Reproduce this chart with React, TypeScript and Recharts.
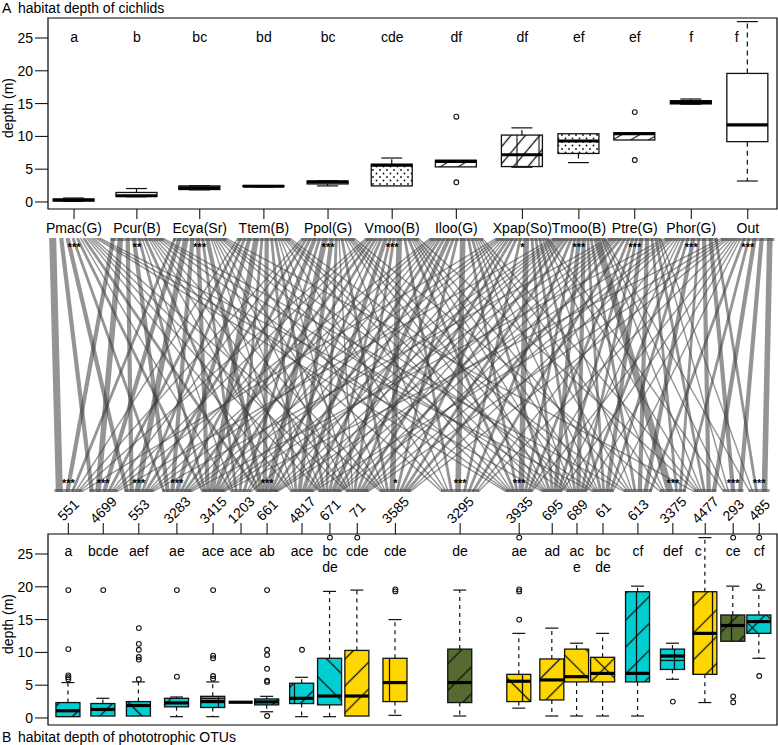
import React from "react";
import { ComposedChart, Bar, Scatter, Line, XAxis, YAxis, ReferenceArea } from "recharts";

const FONT = '"Liberation Sans", Arial, Helvetica, sans-serif';
const Y_MIN = -1.07;
const Y_MAX = 28.05;
const X_MIN = 0.59;
const X_MAX = 12.07;
const DEPTH_TICKS = [0, 5, 10, 15, 20, 25];

// panel A: cichlids
const cichlidNames = ["Pmac(G)", "Pcur(B)", "Ecya(Sr)", "Ttem(B)", "Ppol(G)", "Vmoo(B)", "Iloo(G)", "Xpap(So)", "Tmoo(B)", "Ptre(G)", "Phor(G)", "Out"];
const cichlidAt = [1, 1.99, 2.98, 3.99, 5, 6.01, 7.02, 8.06, 8.95, 9.83, 10.72, 11.61];
const cichlidLetters = ["a", "b", "bc", "bd", "bc", "cde", "df", "df", "ef", "ef", "f", "f"];
const cichlidStars = ["***", "**", "***", "", "***", "***", "", "*", "***", "***", "***", "***"];
// [lower whisker, q1, median, q3, upper whisker]
const cichlidStats = [
  [0.1, 0.15, 0.3, 0.45, 0.6],
  [0.8, 0.85, 0.95, 1.45, 2.05],
  [1.85, 1.9, 2.15, 2.45, 2.5],
  [2.3, 2.35, 2.4, 2.5, 2.5],
  [2.45, 2.75, 3.05, 3.2, 3.25],
  [2.45, 2.45, 5.6, 5.75, 6.7],
  [5.35, 5.35, 6.2, 6.35, 6.35],
  [5.3, 5.4, 7.2, 10.2, 11.3],
  [6.0, 7.4, 9.3, 10.4, 10.4],
  [9.45, 9.45, 10.4, 10.55, 10.55],
  [14.9, 14.95, 15.2, 15.45, 15.7],
  [3.2, 9.2, 11.75, 19.6, 27.5],
];
const cichlidOutliers = [[], [], [], [], [], [], [13.0, 3.0], [], [], [13.7, 6.4], [], []];
const cichlidFill = ["plain", "plain", "plain", "plain", "plain", "dots", "hatch", "zig", "dots", "hatch", "plain", "plain"];

// panel B: phototrophic OTUs
const otuNames = ["551", "4699", "553", "3283", "3415", "1203", "661", "4817", "671", "71", "3585", "3295", "3935", "695", "689", "61", "613", "3375", "4477", "293", "485"];
const otuAt = [0.91, 1.46, 2.02, 2.62, 3.19, 3.63, 4.04, 4.59, 5.03, 5.46, 6.06, 7.08, 8.01, 8.53, 8.92, 9.33, 9.88, 10.43, 10.94, 11.38, 11.79];
const otuLetters = ["a", "bcde", "aef", "ae", "ace", "ace", "ab", "ace", "bc\nde", "cde", "cde", "de", "ae", "ad", "ac\ne", "bc\nde", "cf", "def", "c", "ce", "cf"];
const otuStars = ["***", "***", "***", "***", "", "", "***", "", "", "", "*", "***", "***", "", "", "", "", "***", "", "***", "***"];
const otuGroup = ["cy", "cy", "cy", "cy", "cy", "cy", "cy", "cy", "cy", "ye", "ye", "ol", "ye", "ye", "ye", "ye", "cy", "cy", "ye", "ol", "cy"];
const otuStats = [
  [0.2, 0.2, 1.1, 2.35, 5.4],
  [0.3, 0.3, 1.3, 2.2, 3.0],
  [0.3, 0.3, 1.9, 2.5, 5.5],
  [0.2, 1.7, 2.3, 3.0, 3.2],
  [0.2, 1.6, 2.5, 3.3, 5.5],
  [2.4, 2.4, 2.4, 2.4, 2.4],
  [0.95, 2.0, 2.45, 2.9, 3.3],
  [0.2, 2.2, 3.0, 5.3, 6.2],
  [0.2, 2.0, 3.35, 9.1, 19.3],
  [0.3, 0.3, 3.35, 10.3, 19.5],
  [0.4, 2.5, 5.4, 9.1, 15.0],
  [0.3, 2.35, 5.4, 10.5, 19.5],
  [1.5, 2.5, 5.6, 6.65, 12.9],
  [0.3, 2.75, 5.8, 9.0, 13.7],
  [0.3, 5.5, 6.3, 10.5, 11.4],
  [0.3, 5.5, 6.8, 9.25, 12.9],
  [0.3, 5.5, 6.8, 19.25, 20.1],
  [5.9, 7.4, 9.45, 10.5, 11.4],
  [2.35, 6.65, 12.9, 19.25, 27.5],
  [11.7, 11.7, 14.1, 15.7, 20.1],
  [9.1, 12.9, 14.7, 15.7, 19.5],
];
const otuOutliers = [
  [19.5, 10.5, 6.5, 6.2, 5.9],
  [19.5],
  [13.7, 11.3, 10.4, 9.3, 8.9, 5.9],
  [19.5, 6.3],
  [19.5, 9.5, 9.1, 6.4, 6.0],
  [],
  [19.5, 10.4, 9.6, 7.5, 5.7, 5.5, 0.3],
  [10.4],
  [27.5],
  [27.5],
  [19.6, 19.3],
  [],
  [27.5, 19.6, 19.3, 15.0],
  [],
  [],
  [],
  [],
  [2.5],
  [],
  [27.5, 3.3, 2.4],
  [27.5, 20.1, 6.4],
];
const otuHatch = ["/", "/", "\\", "/", "+", "", "/", "|/", "\\", "/", "|", "/", "|\\", "/", "\\", "x", "|/", "+", "|/", "|/", "x"];

// interaction web: rows = cichlids, columns = OTUs
const web = [
  [5, 3, 3, 2, 2, 1, 2, 1, 1, 1, 1, 0, 1, 1, 0, 1, 0, 0, 0, 0, 0],
  [3, 4, 3, 3, 2, 1, 2, 1, 1, 1, 1, 1, 1, 0, 1, 0, 1, 0, 0, 0, 0],
  [2, 3, 4, 3, 3, 2, 3, 1, 1, 1, 1, 1, 1, 1, 0, 1, 0, 0, 1, 0, 0],
  [1, 2, 2, 3, 4, 2, 3, 2, 2, 1, 1, 1, 1, 1, 1, 0, 1, 0, 0, 0, 0],
  [1, 1, 2, 2, 3, 2, 4, 3, 2, 1, 2, 1, 1, 1, 1, 1, 0, 1, 0, 0, 0],
  [1, 1, 1, 2, 2, 1, 2, 3, 2, 2, 4, 2, 2, 1, 1, 1, 1, 0, 1, 0, 0],
  [0, 1, 1, 1, 1, 1, 2, 2, 3, 2, 2, 4, 2, 2, 1, 1, 1, 1, 1, 0, 0],
  [1, 0, 1, 1, 1, 0, 1, 1, 2, 2, 2, 2, 4, 2, 2, 2, 1, 1, 1, 1, 0],
  [0, 1, 0, 1, 1, 1, 1, 1, 1, 2, 2, 2, 2, 3, 3, 2, 2, 5, 1, 1, 1],
  [0, 0, 1, 0, 1, 0, 1, 1, 1, 1, 2, 2, 2, 2, 2, 3, 3, 2, 2, 1, 1],
  [0, 0, 0, 1, 0, 0, 1, 0, 1, 1, 1, 1, 1, 1, 2, 2, 3, 2, 3, 3, 2],
  [0, 0, 0, 0, 1, 0, 0, 1, 0, 1, 1, 1, 1, 1, 1, 1, 2, 2, 3, 3, 4],
];

const GROUP_COLORS: Record<string, string> = { cy: "#00CED1", ye: "#FFD700", ol: "#556B2F" };

const cichlidRows = cichlidNames.map((name, i) => ({
  name,
  at: cichlidAt[i],
  stats: cichlidStats[i],
  fill: cichlidFill[i],
}));
const otuRows = otuNames.map((name, i) => ({
  name,
  at: otuAt[i],
  stats: otuStats[i],
  color: GROUP_COLORS[otuGroup[i]],
  hatch: otuHatch[i],
}));

const cichlidOut = cichlidOutliers.flatMap((vals, i) => vals.map((v) => ({ at: cichlidAt[i], v })));
const otuOut = otuOutliers.flatMap((vals, i) => vals.map((v) => ({ at: otuAt[i], v })));

const TOP_LETTER_Y = 25.2;
const BOT_LETTER_Y = 25.4;
// letters step aside when the upper whisker runs through them
const cichlidLetterPts = cichlidLetters.map((label, i) => ({
  at: cichlidAt[i],
  ly: TOP_LETTER_Y,
  label,
  dx: cichlidStats[i][4] > TOP_LETTER_Y - 1 ? -11 : 0,
}));
const otuLetterPts = otuLetters.map((label, i) => ({
  at: otuAt[i],
  ly: BOT_LETTER_Y,
  label,
  dx: otuStats[i][4] > BOT_LETTER_Y - 1 ? -7 : 0,
}));

const span = () => [Y_MIN, Y_MAX];

const HATCH_ANGLES: Record<string, number[]> = {
  "/": [45],
  "\\": [-45],
  "|": [0],
  "+": [0, 90],
  x: [45, -45],
  "|/": [0, 45],
  "|\\": [0, -45],
};

function linePattern(id: string, angle: number, size: number, sw: number) {
  return (
    <pattern key={id} id={id} patternUnits="userSpaceOnUse" width={size} height={size} patternTransform={`rotate(${angle})`}>
      <line x1={size / 2} y1={0} x2={size / 2} y2={size} stroke="#111" strokeWidth={sw} />
    </pattern>
  );
}

function boxShape(o: { half: number; cap: number; dash: string; prefix: string; top: boolean }) {
  return function BoxShape(props: any) {
    const { x, y, width, height, index, payload } = props;
    if (height == null || !payload) return null;
    const py = (v: number) => y + ((Y_MAX - v) / (Y_MAX - Y_MIN)) * height;
    const cx = x + width / 2;
    const [lo, q1, med, q3, hi] = payload.stats;
    const id = `${o.prefix}-${index}`;
    const defs: React.ReactNode[] = [];
    const overlays: string[] = [];
    if (o.top) {
      if (payload.fill === "dots") {
        defs.push(
          <pattern key="d" id={`${id}-d`} patternUnits="userSpaceOnUse" width={7} height={7}>
            <circle cx={2} cy={2} r={0.9} fill="#111" />
            <circle cx={5.5} cy={5.5} r={0.9} fill="#111" />
          </pattern>
        );
        overlays.push(`${id}-d`);
      } else if (payload.fill === "hatch") {
        defs.push(linePattern(`${id}-h`, 60, 9, 1.1));
        overlays.push(`${id}-h`);
      } else if (payload.fill === "zig") {
        defs.push(linePattern(`${id}-h`, 40, 11, 1.3));
        defs.push(linePattern(`${id}-v`, 0, 22, 1.1));
        overlays.push(`${id}-h`, `${id}-v`);
      }
    } else {
      (HATCH_ANGLES[payload.hatch] || []).forEach((a, k) => {
        defs.push(linePattern(`${id}-${k}`, a, 19, 1.3));
        overlays.push(`${id}-${k}`);
      });
    }
    const bx = cx - o.half;
    const bw = o.half * 2;
    const yq3 = py(q3);
    const yq1 = py(q1);
    const base = o.top ? "#fff" : payload.color;
    return (
      <g>
        <defs>{defs}</defs>
        {hi > q3 && (
          <g stroke="#111" strokeWidth={1.2}>
            <line x1={cx} x2={cx} y1={yq3} y2={py(hi)} strokeDasharray={o.dash} />
            <line x1={cx - o.cap} x2={cx + o.cap} y1={py(hi)} y2={py(hi)} />
          </g>
        )}
        {lo < q1 && (
          <g stroke="#111" strokeWidth={1.2}>
            <line x1={cx} x2={cx} y1={yq1} y2={py(lo)} strokeDasharray={o.dash} />
            <line x1={cx - o.cap} x2={cx + o.cap} y1={py(lo)} y2={py(lo)} />
          </g>
        )}
        {q3 > q1 && <rect x={bx} y={yq3} width={bw} height={yq1 - yq3} fill={base} stroke="#111" strokeWidth={1.3} />}
        {q3 > q1 &&
          overlays.map((pid) => (
            <rect key={pid} x={bx} y={yq3} width={bw} height={yq1 - yq3} fill={`url(#${pid})`} stroke="none" />
          ))}
        <line x1={bx} x2={bx + bw} y1={py(med)} y2={py(med)} stroke="#000" strokeWidth={3.2} />
      </g>
    );
  };
}

const TopBox = boxShape({ half: 20.5, cap: 10.5, dash: "5 4", prefix: "cb", top: true });
const BotBox = boxShape({ half: 12, cap: 6.5, dash: "4 4", prefix: "ob", top: false });

function Outlier(props: any) {
  const { cx, cy } = props;
  return <circle cx={cx} cy={cy} r={2.4} fill="none" stroke="#111" strokeWidth={1.1} />;
}

function Letter(props: any) {
  const { cx, cy, payload } = props;
  const lines = String(payload.label).split("\n");
  const x = cx + (payload.dx || 0);
  return (
    <text x={x} y={cy + 5} textAnchor="middle" fontSize={14} fontFamily={FONT} fill="#000">
      {lines.map((t, k) => (
        <tspan key={k} x={x} dy={k === 0 ? 0 : 16}>
          {t}
        </tspan>
      ))}
    </text>
  );
}

function Stars(props: any) {
  const { cx, cy, payload } = props;
  if (!payload.s) return null;
  return (
    <text x={cx} y={cy + 4} textAnchor="middle" fontSize={11} fontWeight="bold" fontFamily={FONT} fill="#000">
      {payload.s}
    </text>
  );
}

function OtuTick(props: any) {
  const { x, y, payload } = props;
  const i = otuAt.indexOf(payload.value);
  return (
    <text
      transform={`translate(${x},${y - 13}) rotate(-45)`}
      textAnchor="middle"
      dominantBaseline="central"
      fontSize={14}
      fontFamily={FONT}
      fill="#000"
    >
      {otuNames[i]}
    </text>
  );
}

const axisTick = { fontSize: 14, fill: "#000", fontFamily: FONT };

function DepthAxis() {
  return (
    <YAxis
      type="number"
      domain={[Y_MIN, Y_MAX]}
      allowDataOverflow
      ticks={DEPTH_TICKS}
      width={48}
      tickSize={13}
      tickMargin={2}
      axisLine={false}
      tickLine={{ stroke: "#000" }}
      tick={axisTick}
    />
  );
}

function CichlidPanel() {
  return (
    <ComposedChart width={778} height={240} data={cichlidRows} margin={{ top: 18, right: 1, bottom: 1, left: 0 }}>
      <XAxis
        type="number"
        dataKey="at"
        domain={[X_MIN, X_MAX]}
        allowDataOverflow
        ticks={cichlidAt}
        interval={0}
        height={30}
        tickSize={10}
        tickMargin={4}
        axisLine={false}
        tickLine={{ stroke: "#000" }}
        tick={axisTick}
        tickFormatter={(v: number) => cichlidNames[cichlidAt.indexOf(v)]}
      />
      {DepthAxis()}
      <ReferenceArea x1={X_MIN} x2={X_MAX} y1={Y_MIN} y2={Y_MAX} fill="none" stroke="#000" strokeWidth={1.2} />
      <Bar dataKey={span} barSize={41} shape={TopBox} isAnimationActive={false} />
      <Scatter data={cichlidOut} dataKey="v" shape={Outlier} isAnimationActive={false} />
      <Scatter data={cichlidLetterPts} dataKey="ly" shape={Letter} isAnimationActive={false} />
    </ComposedChart>
  );
}

function OtuPanel() {
  return (
    <ComposedChart width={778} height={250} data={otuRows} margin={{ top: 4, right: 1, bottom: 5, left: 0 }}>
      <XAxis
        type="number"
        orientation="top"
        dataKey="at"
        domain={[X_MIN, X_MAX]}
        allowDataOverflow
        ticks={otuAt}
        interval={0}
        height={50}
        tickSize={11}
        tickMargin={0}
        axisLine={false}
        tickLine={{ stroke: "#000" }}
        tick={OtuTick}
      />
      {DepthAxis()}
      <ReferenceArea x1={X_MIN} x2={X_MAX} y1={Y_MIN} y2={Y_MAX} fill="none" stroke="#000" strokeWidth={1.2} />
      <Bar dataKey={span} barSize={24} shape={BotBox} isAnimationActive={false} />
      <Scatter data={otuOut} dataKey="v" shape={Outlier} isAnimationActive={false} />
      <Scatter data={otuLetterPts} dataKey="ly" shape={Letter} isAnimationActive={false} />
    </ComposedChart>
  );
}

// web layout: links stacked by weight inside each node
const TOP_HW = 0.42;
const botHalf = otuAt.map((d, j) => {
  const l = j > 0 ? d - otuAt[j - 1] : 1;
  const r = j < otuAt.length - 1 ? otuAt[j + 1] - d : 1;
  return Math.min(0.3, (0.8 * Math.min(l, r)) / 2);
});
const topPos = web.map((row, i) => {
  const tot = row.reduce((a, b) => a + b, 0);
  let cum = 0;
  return row.map((w) => {
    const p = cichlidAt[i] - TOP_HW + ((cum + w / 2) / tot) * 2 * TOP_HW;
    cum += w;
    return p;
  });
});
const botPos = web.map((row) => row.map(() => 0));
otuAt.forEach((d, j) => {
  const tot = web.reduce((a, row) => a + row[j], 0);
  let cum = 0;
  web.forEach((row, i) => {
    const w = row[j];
    botPos[i][j] = d - botHalf[j] + ((cum + w / 2) / tot) * 2 * botHalf[j];
    cum += w;
  });
});
const links = web.flatMap((row, i) =>
  row
    .map((w, j) => ({
      key: `${i}-${j}`,
      w,
      pts: [
        { x: topPos[i][j], y: 1 },
        { x: botPos[i][j], y: 0 },
      ],
    }))
    .filter((l) => l.w > 0)
);
const topStarPts = cichlidStars.map((s, i) => ({ x: cichlidAt[i], y: 0.965, s }));
const botStarPts = otuStars.map((s, i) => ({ x: otuAt[i], y: 0.035, s }));

function WebPanel() {
  return (
    <ComposedChart width={778} height={270} margin={{ top: 8, right: 1, bottom: 8, left: 48 }}>
      <XAxis type="number" dataKey="x" domain={[X_MIN, X_MAX]} allowDataOverflow hide />
      <YAxis type="number" domain={[0, 1]} allowDataOverflow hide />
      {cichlidAt.map((c) => (
        <ReferenceArea key={`t${c}`} x1={c - TOP_HW} x2={c + TOP_HW} y1={0.988} y2={1} fill="#999" fillOpacity={1} />
      ))}
      {otuAt.map((d, j) => (
        <ReferenceArea key={`b${d}`} x1={d - botHalf[j]} x2={d + botHalf[j]} y1={0} y2={0.012} fill="#999" fillOpacity={1} />
      ))}
      {links.map((l) => (
        <Line
          key={l.key}
          data={l.pts}
          dataKey="y"
          type="linear"
          stroke="#3c3c3c"
          strokeOpacity={0.55}
          strokeWidth={l.w * 1.4}
          dot={false}
          activeDot={false}
          isAnimationActive={false}
        />
      ))}
      <Scatter data={topStarPts} dataKey="y" shape={Stars} isAnimationActive={false} />
      <Scatter data={botStarPts} dataKey="y" shape={Stars} isAnimationActive={false} />
    </ComposedChart>
  );
}

export default function App() {
  return (
    <div style={{ position: "absolute", left: 0, top: 0, width: 778, height: 745, background: "#fff", overflow: "hidden" }}>
      <svg width={778} height={745} style={{ position: "absolute", left: 0, top: 0 }}>
        <g fontFamily={FONT} fontSize={14} fill="#000">
          <text x={2} y={13}>A</text>
          <text x={18} y={13}>habitat depth of cichlids</text>
          <text x={2} y={742}>B</text>
          <text x={18} y={742}>habitat depth of phototrophic OTUs</text>
          <text transform="translate(13,108) rotate(-90)" textAnchor="middle">depth (m)</text>
          <text transform="translate(13,624) rotate(-90)" textAnchor="middle">depth (m)</text>
        </g>
      </svg>
      <div style={{ position: "absolute", left: 0, top: 0 }}>
        <CichlidPanel />
      </div>
      <div style={{ position: "absolute", left: 0, top: 230 }}>
        <WebPanel />
      </div>
      <div style={{ position: "absolute", left: 0, top: 480 }}>
        <OtuPanel />
      </div>
    </div>
  );
}
